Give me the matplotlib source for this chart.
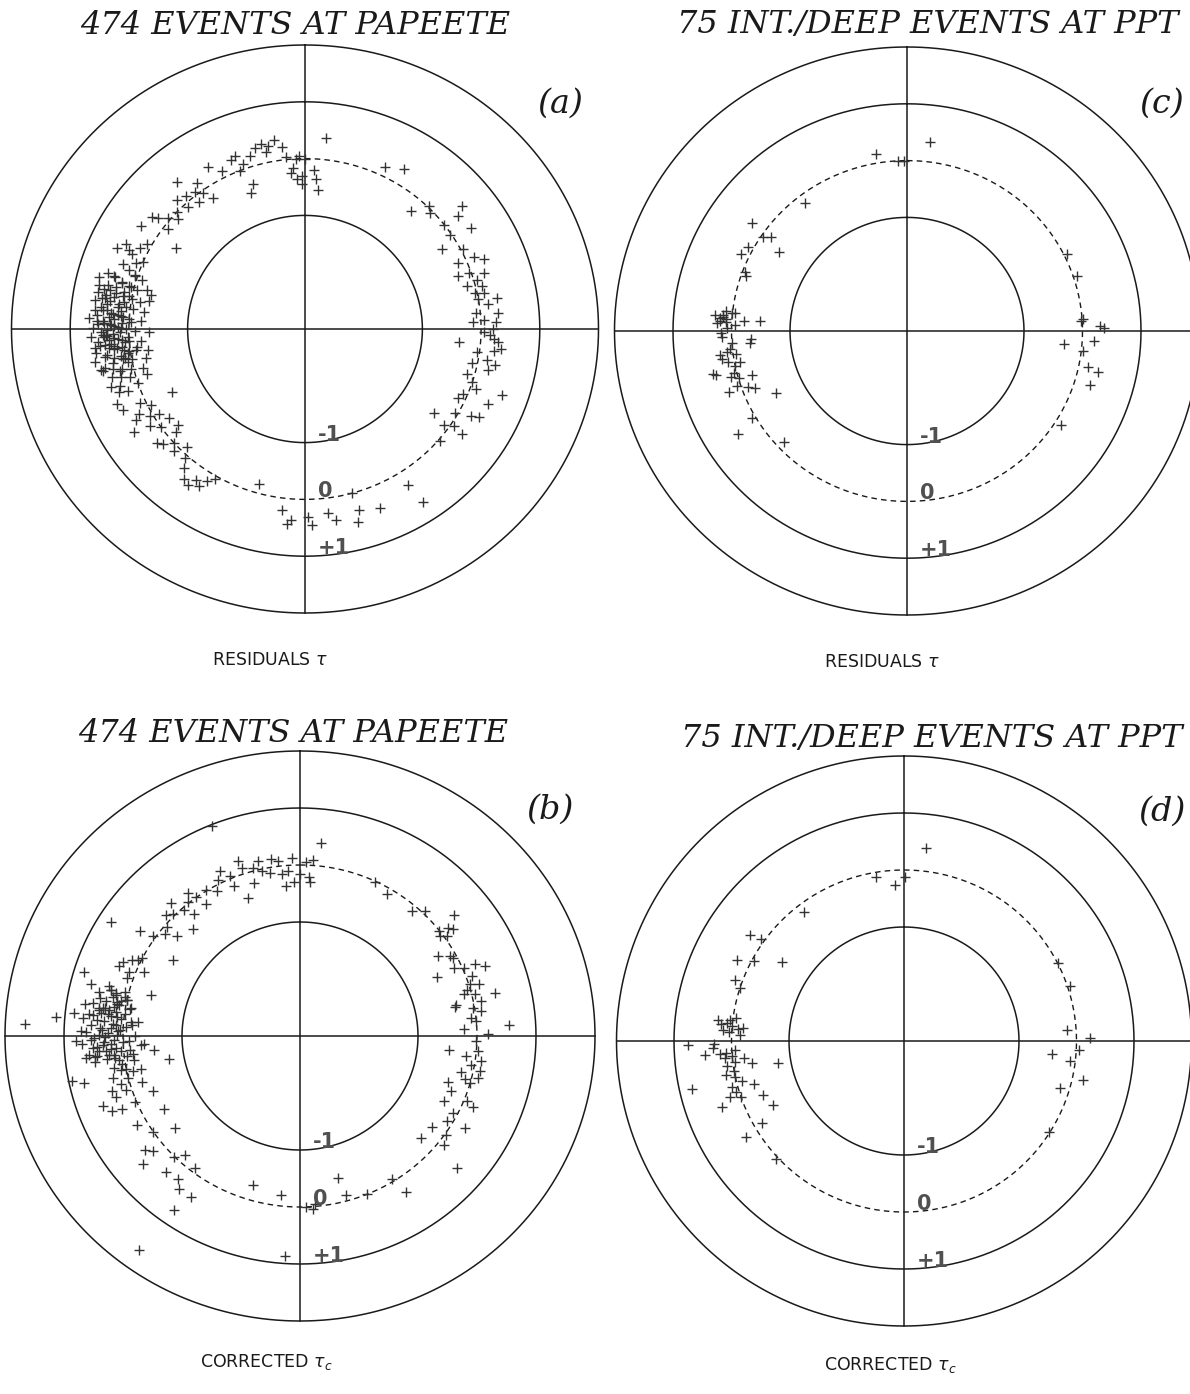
import numpy as np
import matplotlib.pyplot as plt

# ---------------------------------------------------------------
# Data: (back-azimuth in deg clockwise from north, residual tau)
# ---------------------------------------------------------------

# (a) 474 events at Papeete, residuals
points_a = [
    # north / north-west
    (6, 0.38), (-9, 0.37), (-13, 0.35), (-12, 0.19), (-17, 0.19), (-21.5, 0.27), (-23, 0.23),
    (-20, 0.09), (-21.6, 0.0), (-15, 0.3), (-11, 0.28), (-7, 0.22), (-6, 0.05),
    (-3, 0.0), (-4, -0.15), (-5, -0.25), (-1, -0.3), (-2, 0.05), (0, 0.0), (-3, -0.35),
    (3, -0.2), (4, -0.35), (5, -0.55), (-1, -0.45), (-21, -0.43), (-19, -0.3),
    (-30, 0.3), (-27, 0.13), (-40, 0.38), (-35.6, 0.17), (-36, -0.05), (-34, -0.21), (-43, -0.07),
    (-46.5, 0.0), (-53, -0.07), (-57, -0.38), (-38, 0.05), (-41, 0.1), (-44, 0.15), (-48, -0.1),
    (-50, 0.05), (-39, -0.12), (-57, 0.34), (-53, 0.27), (-52, 0.17), (-66, 0.51), (-64, 0.4),
    (-66, 0.23), (-67, 0.0), (-61, 0.07), (-63, 0.15), (-68, 0.1), (-65, 0.3),
    (-74, 0.38), (-75.5, 0.22), (-72, 0.04), (-75.6, -0.22), (-79.5, -0.3), (-77, 0.3),
    (-78, 0.15), (-80, 0.45), (-76, 0.05),
    # north-east / east
    (25.5, 0.16), (31, 0.29), (41, -0.24), (44.3, 0.02), (46, -0.05),
    (51, 0.45), (52.7, 0.27), (52.3, -0.01), (57.9, 0.33), (56.3, -0.03), (59, -0.27),
    (62.3, 0.04), (65.8, -0.15), (66.4, 0.15), (68, 0.29), (70.3, -0.24), (70.5, -0.04),
    (73.4, 0.05), (74.8, -0.14), (77.7, -0.04), (78.3, 0.12), (80.6, 0.32), (84.5, -0.07),
    (87, 0.05), (87.7, 0.25), (87.4, -0.14), (76, 0.1), (82, 0.15), (72, 0.2), (80, 0.0), (85, 0.3),
    (95, -0.36), (98, -0.04), (106, -0.13), (113, -0.07), (115, -0.13), (92, 0.15), (94, 0.3),
    (96, 0.35), (93, 0.22), (101, 0.3), (103, 0.2), (100, 0.15), (90, 0.2), (91, 0.05),
    (97, 0.25), (109, 0.55), (113, 0.39), (117.5, 0.34), (118.5, 0.22), (124, -0.34),
    (125.5, -0.09), (124, 0.06), (124.6, 0.24), (130.6, 0.04), (110, 0.1), (120, -0.05),
    (108, 0.0), (102, -0.1),
    # south
    (147.5, 0.26), (146.5, 0.65), (158, 0.4), (164, 0.31), (165, 0.51), (171, 0.41),
    (173, 0.27), (178, 0.45), (179, 0.31), (184, 0.37), (187, 0.21), (185, 0.45),
    (164.5, 0.0), (196, -0.17),
    # south-west
    (244, -0.48), (247.5, 0.47), (245.4, 0.41), (241, 0.3), (238, 0.43), (235, 0.0),
    (240, 0.05), (243, -0.05), (245, 0.1), (237, 0.15), (242, 0.2), (231.5, 0.23),
    (230, 0.15), (232, -0.25), (230.5, -0.15), (228, 0.0), (226, 0.1), (215, 0.25),
    (218, 0.35), (220, 0.2), (216, 0.4), (213, 0.3), (222, 0.05), (224, -0.1),
    (210, 0.05), (212, 0.15), (239, -0.1), (236, -0.2),
    # west cluster
    (250.2, 0.2), (250.8, 0.35), (251.5, 0.0), (252.3, 0.3), (252.9, 0.45), (253.6, -0.2),
    (254.1, 0.1), (254.8, 0.25), (255.5, 0.4), (256.2, -0.15), (256.7, 0.05), (257.4, 0.2),
    (258.0, 0.35), (258.6, 0.48), (259.3, -0.25), (259.9, 0.0), (260.4, 0.15), (261.1, 0.3),
    (261.7, 0.45), (262.2, -0.3), (262.8, -0.1), (263.3, 0.1), (263.9, 0.22), (264.4, 0.35),
    (265.0, 0.5), (265.5, -0.2), (266.1, 0.0), (266.6, 0.12), (267.2, 0.25), (267.8, 0.38),
    (268.3, 0.45), (268.9, -0.35), (269.4, -0.1), (270.0, 0.05), (270.6, 0.18), (271.1, 0.3),
    (271.7, 0.42), (272.2, 0.55), (272.8, -0.2), (273.3, 0.0), (273.9, 0.1), (274.5, 0.2),
    (275.0, 0.32), (275.6, 0.46), (276.1, -0.25), (276.7, -0.05), (277.2, 0.08), (277.8, 0.2),
    (278.4, 0.35), (278.9, 0.5), (279.5, -0.15), (280.1, 0.0), (280.6, 0.15), (281.2, 0.28),
    (281.8, 0.4), (282.3, 0.6), (282.9, -0.3), (283.6, -0.05), (284.2, 0.1), (285.0, 0.22),
    (285.7, 0.36), (286.5, 0.5), (287.3, -0.1), (288.1, 0.05), (289.0, 0.18), (290.2, 0.3),
    (259.0, 0.07), (261.5, 0.17), (264.8, 0.27), (267.5, 0.42), (270.3, 0.13), (273.0, 0.26),
    (275.8, 0.39), (262.6, 0.02), (266.9, 0.19), (271.4, 0.33), (256.9, 0.24), (260.7, 0.11),
    (265.3, 0.31), (269.1, 0.16), (272.5, -0.03), (268.1, 0.4), (263.6, -0.12), (257.8, 0.52),
    (274.2, 0.14), (277.0, 0.21),
    (258.3, 0.55), (259.6, 0.33), (260.9, 0.62), (261.9, 0.05), (262.4, 0.4), (263.1, 0.58),
    (263.7, 0.28), (264.1, 0.14), (264.6, 0.6), (265.2, 0.42), (265.8, 0.08), (266.3, 0.53),
    (266.8, 0.35), (267.4, 0.02), (267.9, 0.65), (268.5, 0.28), (269.0, 0.48), (269.6, 0.38),
    (270.2, 0.62), (270.8, 0.25), (271.3, 0.52), (271.9, 0.12), (272.4, 0.45), (273.1, 0.68),
    (273.6, 0.35), (274.0, 0.55), (274.7, 0.28), (275.3, 0.6), (275.9, 0.15), (276.4, 0.5),
    (277.4, 0.4), (278.1, 0.62), (278.7, 0.12), (279.2, 0.45), (279.9, 0.3), (280.4, 0.58),
    (281.0, 0.05), (281.6, 0.5), (283.0, 0.45), (284.6, 0.62),
]

# (b) 474 events at Papeete, corrected residuals
points_b = [
    # north / north-west
    (-22, 0.97), (6, 0.41), (-2.4, 0.13), (-4, -0.1), (-2, -0.3), (-5, -0.35), (-6, -0.15),
    (0, -0.15), (2, 0.05), (3, -0.2), (4, 0.1), (3.5, -0.3), (-9, 0.14), (-13, 0.15),
    (-12.7, -0.04), (-18.4, 0.11), (-22.8, 0.04), (-23, -0.15), (-20, -0.43), (-27, 0.08),
    (-32, 0.02), (-15, 0.05), (-10, -0.1), (-16, -0.2), (-25, 0.2), (-29, -0.1), (-7, 0.1),
    (-19, 0.25), (-35.8, 0.01), (-39, 0.02), (-41.7, -0.05), (-34.6, -0.18), (-40, -0.2),
    (-44, -0.4), (-37, 0.15), (-45.3, 0.04), (-49.8, -0.05), (-54.8, 0.04), (-50, -0.27),
    (-47, 0.1), (-52, -0.1), (-43, 0.2), (-58, 0.77), (-56, 0.28), (-58.4, -0.47), (-63, 0.0),
    (-66.6, 0.27), (-69, 0.11), (-67, -0.13), (-71, 0.1), (-65, 0.15), (-68, 0.3), (-64, 0.05),
    (-73, 0.83), (-75.6, 0.07), (-74, -0.38), (-80, 0.11), (-82.3, 0.43), (-77, 0.2),
    (-78, 0.0), (-76, 0.3),
    # west and south-west
    (-87.4, 1.66), (-85.3, 1.15), (-84, 0.85), (-84, 0.53), (-81.5, 0.38), (268.6, 0.8),
    (266.6, 0.52), (264, 0.49), (264, 0.17), (265, -0.1), (259, 0.0), (258, -0.25),
    (264.5, -0.52), (259.5, -0.75), (258.4, 0.94), (257.4, 0.76), (253, 0.33), (247.5, 0.45),
    (247, 0.27), (247.6, 0.02), (248.8, -0.32), (241, -0.37), (240.5, 0.17), (236, 0.01),
    (232.5, -0.34), (232.7, 0.3), (231, 0.2), (230, 0.48), (225, 0.01), (223, -0.14),
    (223.6, 0.29), (217.6, -0.07), (219.7, 0.25), (217.4, 0.37), (213.3, 0.38), (215, 0.73),
    (216, 1.65),
    # dense west cluster
    (262.1, 0.1), (262.9, 0.3), (263.6, -0.15), (264.3, 0.45), (265.2, 0.05), (265.8, 0.22),
    (266.5, -0.3), (267.3, 0.35), (268.0, 0.0), (268.7, 0.15), (269.4, 0.5), (270.1, -0.2),
    (270.8, 0.25), (271.5, 0.08), (272.3, 0.4), (273.0, -0.05), (273.8, 0.18), (274.5, 0.33),
    (275.2, -0.25), (276.0, 0.12), (276.7, 0.28), (277.5, 0.0), (278.2, 0.45), (279.0, 0.2),
    (279.8, -0.1), (280.6, 0.35), (281.4, 0.1), (282.3, 0.25), (283.1, 0.05), (284.0, 0.3),
    (261.4, -0.15), (260.6, 0.05), (259.8, 0.2), (258.9, 0.1), (257.9, -0.1), (256.8, 0.25),
    (255.7, 0.0), (254.5, 0.15), (253.4, -0.2), (252.2, 0.1), (251.0, 0.3), (249.8, 0.55),
    (267.0, -0.35), (270.4, 0.4), (273.4, 0.12), (276.3, 0.22), (279.3, -0.08), (268.3, 0.32),
    (271.9, 0.06), (274.9, -0.12), (277.9, 0.27), (265.5, 0.42), (263.0, 0.16), (281.0, 0.16),
    (262.4, 0.5), (263.3, -0.05), (264.0, 0.25), (264.7, 0.6), (265.4, 0.3), (266.1, 0.12),
    (266.8, 0.45), (267.6, 0.2), (268.2, -0.1), (268.9, 0.55), (269.7, 0.3), (270.3, 0.1),
    (271.0, 0.62), (271.7, 0.35), (272.6, 0.2), (273.2, 0.55), (273.9, -0.15), (274.7, 0.45),
    (275.5, 0.05), (276.2, 0.6), (276.9, 0.4), (277.7, 0.15), (278.5, 0.35), (279.4, 0.55),
    (280.2, 0.15), (281.1, 0.45), (282.0, 0.0), (282.7, 0.5), (283.5, 0.2), (284.4, 0.65),
    (285.3, 0.35), (263.8, 0.65), (267.7, 0.7), (271.3, 0.72), (275.0, 0.7), (278.8, 0.68),
    # south
    (197, -0.26), (186.5, -0.19), (183.9, 0.86), (178, 0.0), (165.4, -0.42), (164.4, -0.1),
    (157.6, -0.01), (148, -0.05), (146.8, 0.27), (176, 0.05), (175, -0.05),
    # east
    (131, 0.53), (131, -0.28), (125.4, -0.25), (125, 0.02), (120, 0.23), (115, -0.31),
    (117.5, -0.07), (113, 0.18), (108, -0.37), (105, -0.11), (103.7, 0.11), (110.8, -0.26),
    (95.4, -0.46), (97, -0.16), (95, 0.03), (101.5, 0.11), (87.5, -0.21), (91.7, -0.01),
    (89.5, 0.18), (87, 0.54), (83.7, -0.09), (79, -0.32),
    (25, -0.01), (30.5, -0.1), (40.8, -0.1), (44, 0.05), (51, 0.36), (52, 0.0), (53, 0.15),
    (54, 0.2), (55, 0.05), (53.5, -0.05), (59, -0.27), (61, -0.1), (62, -0.07), (67, 0.22),
    (68.6, 0.37), (66.8, 0.02), (65.4, -0.13), (66, -0.46), (72.5, 0.02), (73.3, 0.17),
    (75.3, -0.13), (77, 0.39), (78.8, 0.13), (78.3, -0.3), (80.5, -0.02), (76, 0.05),
    (74, -0.05), (70, 0.1), (82, 0.1), (85, 0.0), (98, 0.1), (100, -0.05), (106, 0.0),
    (112, 0.05), (121, -0.1), (128, 0.1), (103, -0.2),
]

# (c) 75 intermediate/deep events at PPT, residuals
points_c = [
    (6.7, 0.35), (-9.5, 0.16), (-3, 0.0), (-1, 0.0), (-37.7, -0.15), (-54.3, 0.26),
    (-56, -0.04), (-54.4, -0.15), (-61.4, 0.09), (-64.4, 0.15), (-57.6, -0.41),
    (-70.6, -0.09), (-69.5, -0.05),
    (-85, 0.3), (-86, 0.2), (-87, 0.1), (-88, -0.05), (-84, 0.0), (-86.5, -0.2), (-86, -0.48),
    (-85.5, 0.15), (-87.5, 0.25), (-83.5, 0.12),
    (273, 0.2), (274, 0.1), (276, -0.05), (275, 0.15), (268, 0.16), (266, 0.0), (264, 0.05),
    (262, -0.05), (260, 0.1), (258, 0.0), (256, 0.05), (267, -0.33), (265.5, -0.3),
    (257, 0.4), (256.5, 0.35), (254, -0.02), (253.6, -0.23), (250, -0.1), (249, -0.22),
    (250.5, 0.22), (244, -0.51), (240, 0.05), (238, 0.41), (227, -0.13), (263, 0.1),
    (261, 0.2), (259, -0.1), (271, 0.08), (269.5, 0.18), (262.5, 0.22), (255, 0.12),
    (251.5, 0.06),
    (63.7, 0.06), (71.6, 0.07), (86.7, -0.02), (88.6, 0.3), (86, 0.02), (89, 0.36),
    (95, -0.31), (93, 0.2), (96.8, 0.03), (101.5, 0.15), (102.6, 0.34), (107, 0.27),
    (122, 0.11),
]

# (d) 75 intermediate/deep events at PPT, corrected residuals
points_d = [
    (6.4, 0.4), (0.2, -0.12), (-3.1, -0.26), (-9.5, -0.08), (-37.4, -0.15), (-55.4, 0.26),
    (-54.3, 0.07), (-64, 0.24), (-61.7, -0.03), (-57, -0.47), (-70, 0.13), (-72, 0.0),
    (-84, 0.1), (-85, 0.0), (-86, -0.1), (-87, 0.05), (-85.5, -0.2), (-84.5, 0.2),
    (-88, -0.15), (-83, 0.05), (-82, -0.05), (-86.5, 0.15), (-83.5, 0.25),
    (268.9, 0.76), (265.9, 0.47), (267.8, 0.33), (266, 0.1), (267, -0.05), (265, 0.0),
    (264, -0.2), (266, 0.2), (263, -0.04), (261.6, -0.32), (258, 0.01), (254, -0.28),
    (260, -0.78), (257, 0.78), (252, 0.19), (250, 0.37), (251, 0.0), (248.8, -0.37),
    (243.7, -0.45), (240, -0.14), (238.4, 0.22), (227, 0.04), (262, 0.1), (260, 0.0),
    (256, -0.1), (255, 0.1), (259, 0.15), (269, 0.3), (264.5, 0.12), (253, 0.05),
    (62.8, 0.01), (71.4, 0.04), (86, -0.15), (89, 0.24), (93, 0.04), (95, -0.41),
    (97, -0.1), (102.5, 0.18), (107, -0.16), (122.4, -0.02),
]

titles = ["474 EVENTS AT PAPEETE", "474 EVENTS AT PAPEETE",
          "75 INT./DEEP EVENTS AT PPT", "75 INT./DEEP EVENTS AT PPT"]
letters = ["(a)", "(b)", "(c)", "(d)"]
xlabels = [r"RESIDUALS $\tau$", r"CORRECTED $\tau_c$",
           r"RESIDUALS $\tau$", r"CORRECTED $\tau_c$"]
ring_levels = [-1, 0, 1]
ring_texts = ["-1", "0", "+1"]

# ---------------------------------------------------------------
# Layout (pixels in the 1190 x 1394 figure)
# ---------------------------------------------------------------
W, H = 1190, 1394
# center x, center y, px per unit (x), px per unit (y)
geo = [(305, 329, 58.7, 56.8),
       (300, 1036, 59.0, 57.0),
       (907, 331, 58.5, 56.8),
       (904, 1041, 57.5, 57.0)]
title_pos = [(295, 25), (293, 734), (928, 25), (932, 738)]
letter_pos = [(560, 104), (550, 810), (1162, 104), (1162, 812)]
xlabel_pos = [(270, 660), (266, 1362), (882, 662), (890, 1365)]

ink = "#1a1a1a"
pts = "#333333"

fig = plt.figure(figsize=(W / 100, H / 100), dpi=100)
fig.patch.set_facecolor("white")


def fx(x):
    return x / W


def fy(y):
    return 1 - y / H


def draw_panel(i, points):
    cx, cy, ux, uy = geo[i]
    L = 5.6
    ax = fig.add_axes([fx(cx - L * ux), fy(cy + L * uy), 2 * L * ux / W, 2 * L * uy / H])
    ax.set_xlim(-L, L)
    ax.set_ylim(-L, L)
    ax.axis("off")

    # radius = tau + 3 : circles at tau = -1, +1, +2; dashed at tau = 0
    t = np.linspace(0, 2 * np.pi, 721)
    for tau in [-1, 1, 2]:
        ax.plot((tau + 3) * np.sin(t), (tau + 3) * np.cos(t), color=ink, lw=1.1)
    ax.plot(3 * np.sin(t), 3 * np.cos(t), color=ink, lw=1.0, ls=(0, (4, 3)))
    ax.plot([-5, 5], [0, 0], color=ink, lw=1.1)
    ax.plot([0, 0], [-5, 5], color=ink, lw=1.1)

    az = np.radians([p[0] for p in points])
    r = np.array([p[1] for p in points]) + 3
    ax.plot(r * np.sin(az), r * np.cos(az), "+", color=pts, ms=7, mew=1.0)

    for lev, txt in zip(ring_levels, ring_texts):
        ax.text(0.22, -(lev + 3) + 0.14, txt, ha="left", va="center",
                fontsize=15, fontweight="bold", color="#505050",
                family="DejaVu Sans")

    tx, ty = title_pos[i]
    fig.text(fx(tx), fy(ty), titles[i], ha="center", va="center",
             fontsize=23, style="italic", family="DejaVu Serif", color=ink)
    lx, ly = letter_pos[i]
    fig.text(fx(lx), fy(ly), letters[i], ha="center", va="center",
             fontsize=24, style="italic", family="DejaVu Serif", color=ink)
    bx, by = xlabel_pos[i]
    fig.text(fx(bx), fy(by), xlabels[i], ha="center", va="center",
             fontsize=12.5, family="DejaVu Sans", color=ink)


draw_panel(0, points_a)
draw_panel(1, points_b)
draw_panel(2, points_c)
draw_panel(3, points_d)

fig.savefig("out.png", dpi=100, facecolor="white")
